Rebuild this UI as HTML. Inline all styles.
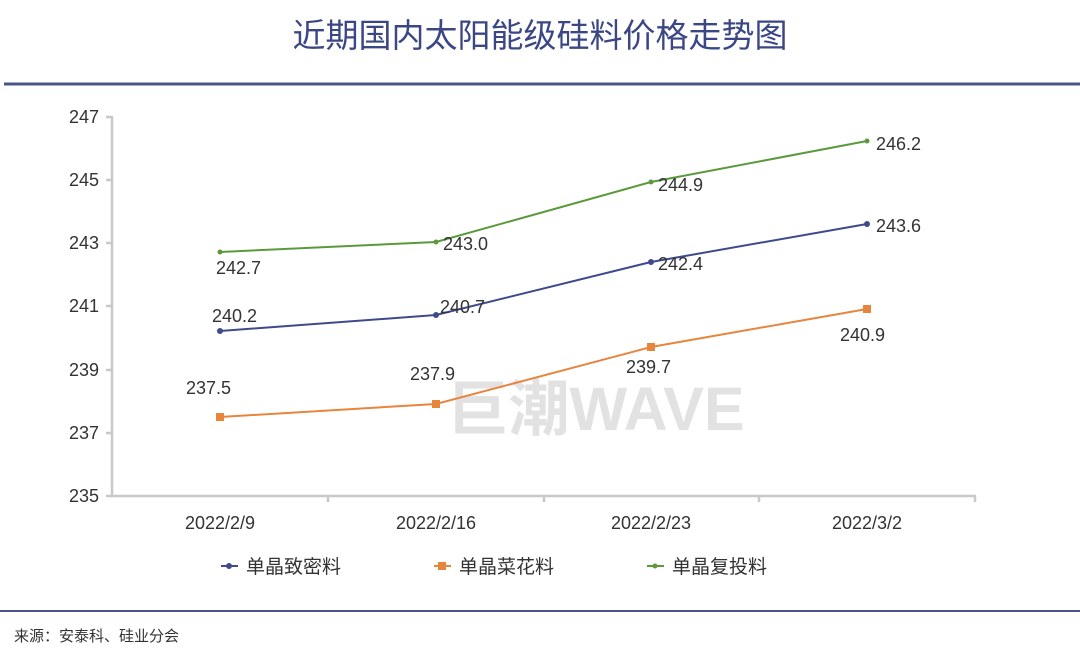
<!DOCTYPE html>
<html><head><meta charset="utf-8"><style>
body{margin:0;background:#fff;width:1080px;height:662px;overflow:hidden;font-family:"Liberation Sans","Noto Sans CJK SC",sans-serif}
</style></head><body>
<svg width="1080" height="662" xmlns="http://www.w3.org/2000/svg" font-family="Liberation Sans, Noto Sans CJK SC, sans-serif">
<text x="540" y="47" text-anchor="middle" font-size="33" fill="#3b4785" font-family="Noto Sans CJK SC, sans-serif">近期国内太阳能级硅料价格走势图</text>
<line x1="4" y1="84" x2="1080" y2="84" stroke="#4a5488" stroke-width="3"/>
<g stroke="#c8c8c8" stroke-width="2.5" fill="none">
<line x1="112" y1="116" x2="112" y2="497"/>
<line x1="111" y1="496" x2="976" y2="496"/>
<line x1="106" y1="117" x2="112" y2="117"/><line x1="106" y1="180" x2="112" y2="180"/><line x1="106" y1="243" x2="112" y2="243"/><line x1="106" y1="306" x2="112" y2="306"/><line x1="106" y1="370" x2="112" y2="370"/><line x1="106" y1="433" x2="112" y2="433"/><line x1="106" y1="496" x2="112" y2="496"/>
<line x1="328" y1="496" x2="328" y2="502"/><line x1="544" y1="496" x2="544" y2="502"/><line x1="759" y1="496" x2="759" y2="502"/><line x1="975" y1="496" x2="975" y2="502"/>
</g>
<g font-size="18" fill="#333" text-anchor="end">
<text x="99" y="123">247</text><text x="99" y="186">245</text><text x="99" y="249">243</text><text x="99" y="312">241</text><text x="99" y="376">239</text><text x="99" y="439">237</text><text x="99" y="502">235</text>
</g>
<g font-size="18" fill="#333" text-anchor="middle">
<text x="220" y="529">2022/2/9</text><text x="436" y="529">2022/2/16</text><text x="651" y="529">2022/2/23</text><text x="867" y="529">2022/3/2</text>
</g>
<text x="596" y="430" text-anchor="middle" font-size="61" font-weight="bold" fill="#dedede" opacity="0.85">巨潮WAVE</text>
<polyline points="220,252 436,242 651,182 867,141" fill="none" stroke="#5b9a3c" stroke-width="2"/>
<g fill="#5b9a3c"><circle cx="220" cy="252" r="2.5"/><circle cx="436" cy="242" r="2.5"/><circle cx="651" cy="182" r="2.5"/><circle cx="867" cy="141" r="2.5"/></g>
<polyline points="220,331 436,315 651,262 867,224" fill="none" stroke="#3e4a8c" stroke-width="2"/>
<g fill="#3e4a8c"><circle cx="220" cy="331" r="3"/><circle cx="436" cy="315" r="3"/><circle cx="651" cy="262" r="3"/><circle cx="867" cy="224" r="3"/></g>
<polyline points="220,417 436,404 651,347 867,309" fill="none" stroke="#e8853d" stroke-width="2"/>
<g fill="#e8853d"><rect x="216" y="413" width="8" height="8"/><rect x="432" y="400" width="8" height="8"/><rect x="647" y="343" width="8" height="8"/><rect x="863" y="305" width="8" height="8"/></g>
<g font-size="18" fill="#333">
<text x="216" y="274">242.7</text><text x="443" y="250">243.0</text><text x="658" y="191">244.9</text><text x="876" y="150">246.2</text>
<text x="212" y="322">240.2</text><text x="440" y="313">240.7</text><text x="658" y="270">242.4</text><text x="876" y="232">243.6</text>
<text x="186" y="394">237.5</text><text x="410" y="380">237.9</text><text x="626" y="373">239.7</text><text x="840" y="341">240.9</text>
</g>
<g font-size="19" fill="#333" font-family="Noto Sans CJK SC, sans-serif">
<line x1="221" y1="566" x2="238" y2="566" stroke="#3e4a8c" stroke-width="2"/><circle cx="229" cy="566" r="3" fill="#3e4a8c"/>
<text x="246" y="573">单晶致密料</text>
<line x1="434" y1="566" x2="451" y2="566" stroke="#e8853d" stroke-width="2"/><rect x="438" y="562" width="8" height="8" fill="#e8853d"/>
<text x="459" y="573">单晶菜花料</text>
<line x1="647" y1="566" x2="664" y2="566" stroke="#5b9a3c" stroke-width="2"/><circle cx="655" cy="566" r="2.5" fill="#5b9a3c"/>
<text x="672" y="573">单晶复投料</text>
</g>
<line x1="0" y1="611" x2="1080" y2="611" stroke="#4a5488" stroke-width="2"/>
<text x="14" y="641" font-size="15" fill="#333" font-family="Noto Sans CJK SC, sans-serif">来源：安泰科、硅业分会</text>
</svg>
</body></html>
